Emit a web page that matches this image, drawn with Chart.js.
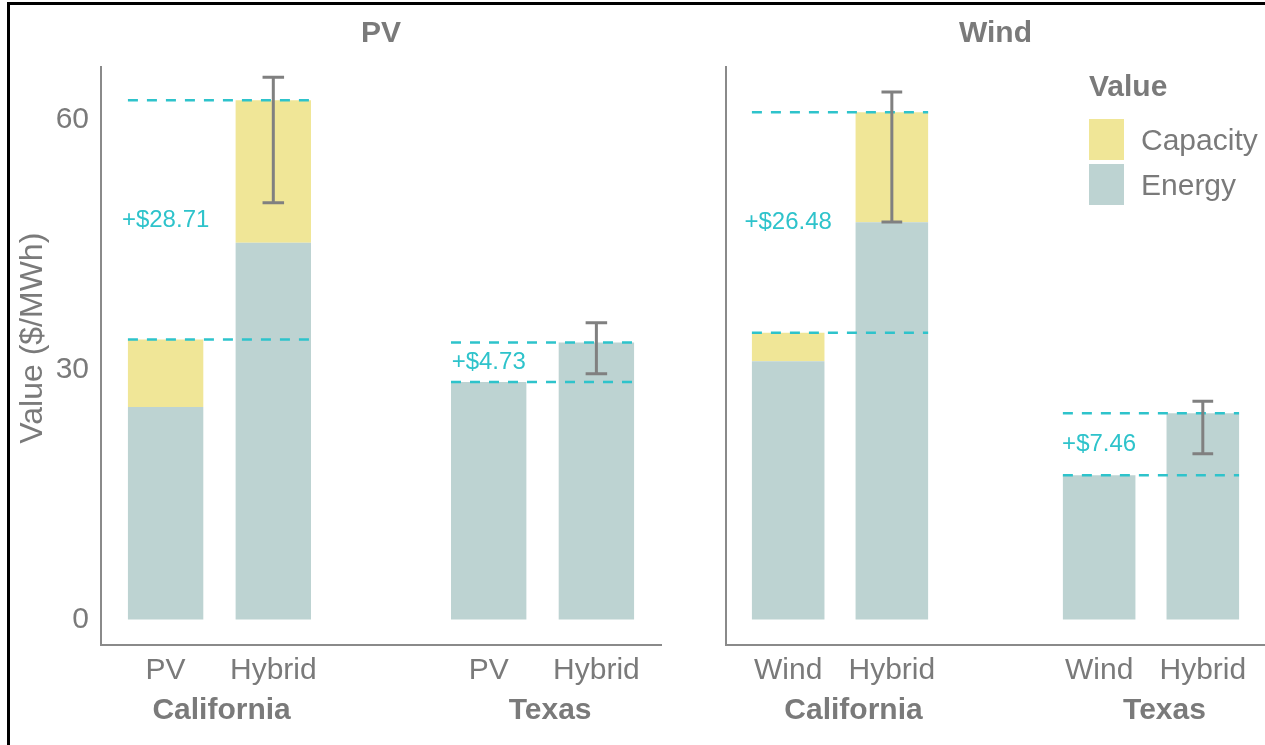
<!DOCTYPE html>
<html>
<head>
<meta charset="utf-8">
<script src="https://cdn.jsdelivr.net/npm/chart.js@4.4.1/dist/chart.umd.min.js"></script>
<style>
  html, body { margin: 0; padding: 0; background: #fff; width: 1265px; height: 745px; overflow: hidden;
    font-family: "Liberation Sans", Arial, Helvetica, sans-serif; }
  #frame { position: absolute; left: 7px; top: 2px; width: 1400px; height: 900px;
    border-left: 3px solid #000; border-top: 3px solid #000; pointer-events: none; }
  #c1 { position: absolute; left: 0; top: 0; }
  #c2 { position: absolute; left: 700px; top: 0; }
  #legend { position: absolute; left: 1089px; top: 68px; color: #7a7a7a; }
  #legend .ttl { font-weight: bold; font-size: 30px; line-height: 36px; height: 36px; }
  #legend .items { margin-top: 15px; }
  #legend .item { display: flex; align-items: center; height: 41px; margin-bottom: 4px; }
  #legend .box { width: 35px; height: 41px; }
  #legend .lbl { font-size: 30px; margin-left: 17px; line-height: 36px; }
</style>
</head>
<body>
<canvas id="c1" width="700" height="745"></canvas>
<canvas id="c2" width="565" height="745"></canvas>
<div id="legend"></div>
<div id="frame"></div>
<script>
// ---------------- data ----------------
const regions = ['California', 'Texas'];
const slots = [1, 2, 4, 5];              // x slot of each bar (slot 3 is the gap between regions)
const pvCategories = ['PV', 'Hybrid', 'PV', 'Hybrid'];
const windCategories = ['Wind', 'Hybrid', 'Wind', 'Hybrid'];

const pvEnergy = [25.5, 45.2, 28.5, 33.23];
const pvCapacity = [8.1, 17.11, 0, 0];
const pvErrLow = [null, 50.0, null, 29.5];
const pvErrHigh = [null, 65.06, null, 35.6];
const pvPremium = [28.71, 4.73];

const windEnergy = [31.0, 47.66, 17.3, 24.76];
const windCapacity = [3.4, 13.22, 0, 0];
const windErrLow = [null, 47.7, null, 19.9];
const windErrHigh = [null, 63.3, null, 26.2];
const windPremium = [26.48, 7.46];

const yTicks = [0, 30, 60];
const seriesNames = ['Energy', 'Capacity'];
const panelTitles = ['PV', 'Wind'];

// ---------------- styles / layout ----------------
const ENERGY = '#bdd3d2';
const CAPACITY = '#f0e697';
const CYAN = '#2ec3cb';
const TEXT = '#7a7a7a';
const AXIS = '#8a8a8a';
const ERR = '#808080';

Chart.defaults.font.family = '"Liberation Sans", Arial, Helvetica, sans-serif';
Chart.defaults.color = TEXT;

const decoPlugin = {
  id: 'deco',
  afterDatasetsDraw(chart, args, o) {
    const { ctx, chartArea, scales: { x, y } } = chart;
    ctx.save();
    // error bars
    ctx.strokeStyle = ERR;
    ctx.lineWidth = 3;
    o.errLow.forEach((lo, i) => {
      const hi = o.errHigh[i];
      if (lo == null || hi == null) return;
      const cx = x.getPixelForValue(slots[i]);
      const l = x.getPixelForValue(slots[i] - 0.1);
      const r = x.getPixelForValue(slots[i] + 0.1);
      const yl = y.getPixelForValue(lo), yh = y.getPixelForValue(hi);
      ctx.beginPath();
      ctx.moveTo(cx, yl); ctx.lineTo(cx, yh);
      ctx.moveTo(l, yl); ctx.lineTo(r, yl);
      ctx.moveTo(l, yh); ctx.lineTo(r, yh);
      ctx.stroke();
    });
    // premium labels
    ctx.fillStyle = CYAN;
    ctx.font = '24px "Liberation Sans", Arial, sans-serif';
    ctx.textAlign = 'center';
    ctx.textBaseline = 'middle';
    o.premium.forEach((p, g) => {
      const a = 2 * g, b = 2 * g + 1;
      const t1 = o.energy[a] + o.capacity[a];
      const t2 = o.energy[b] + o.capacity[b];
      ctx.fillText('+$' + p.toFixed(2), x.getPixelForValue(slots[a]), y.getPixelForValue((t1 + t2) / 2));
    });
    // panel title
    ctx.fillStyle = TEXT;
    ctx.font = 'bold 30px "Liberation Sans", Arial, sans-serif';
    ctx.fillText(o.title, (chartArea.left + chartArea.right) / 2, 34);
    ctx.restore();
  }
};

function buildChart(id, p) {
  const datasets = [
    { label: seriesNames[0], data: p.energy.map((v, i) => ({ x: slots[i], y: v })),
      backgroundColor: ENERGY, borderWidth: 0, order: 1, stack: 'bars' },
    { label: seriesNames[1], data: p.capacity.map((v, i) => ({ x: slots[i], y: v })),
      backgroundColor: CAPACITY, borderWidth: 0, order: 1, stack: 'bars' }
  ];
  for (let g = 0; g < 2; g++) {
    const a = 2 * g, b = 2 * g + 1;
    for (const k of [a, b]) {
      const tot = p.energy[k] + p.capacity[k];
      datasets.push({
        type: 'line', label: 'ref' + k, stack: 'ref' + k, order: 0,
        data: [{ x: slots[a] - 0.35, y: tot }, { x: slots[b] + 0.35, y: tot }],
        borderColor: CYAN, borderWidth: 2.5, borderDash: [10, 9], pointRadius: 0, fill: false
      });
    }
  }
  return new Chart(document.getElementById(id), {
    type: 'bar',
    data: { datasets },
    options: {
      responsive: false, animation: false, devicePixelRatio: 1,
      datasets: { bar: { categoryPercentage: 1, barPercentage: 0.7 } },
      layout: { padding: { top: 67, left: 0, right: p.padRight, bottom: 0 } },
      plugins: {
        legend: { display: false }, tooltip: { enabled: false },
        deco: { errLow: p.errLow, errHigh: p.errHigh, premium: p.premium,
                energy: p.energy, capacity: p.capacity, title: p.title }
      },
      scales: {
        x: {
          type: 'linear', position: 'bottom', min: 0.4, max: 5.6, offset: false,
          grid: { display: false, drawTicks: false, offset: false },
          border: { display: true, color: AXIS, width: 2 },
          afterBuildTicks: s => { s.ticks = slots.map(v => ({ value: v })); },
          ticks: { autoSkip: false, maxRotation: 0, padding: 8, color: TEXT, font: { size: 30 },
                   callback: v => p.cats[slots.indexOf(v)] },
          afterFit: s => { s.height = 44; }
        },
        x2: {
          type: 'linear', position: 'bottom', min: 0.4, max: 5.6, offset: false,
          grid: { display: false, drawTicks: false, offset: false },
          border: { display: false },
          afterBuildTicks: s => { s.ticks = p.groupAt.map(v => ({ value: v })); },
          ticks: { autoSkip: false, maxRotation: 0, padding: 4, color: TEXT,
                   font: { size: 30, weight: 'bold' },
                   callback: v => regions[v < 3 ? 0 : 1] },
          afterFit: s => { s.height = 56; }
        },
        y: {
          type: 'linear', min: -3.06, max: 66.3, stacked: true,
          grid: { display: false, drawTicks: false },
          border: { display: true, color: AXIS, width: 2 },
          afterBuildTicks: s => { s.ticks = yTicks.map(v => ({ value: v })); },
          ticks: { display: p.showY, padding: 12, color: TEXT, font: { size: 30 } },
          title: { display: p.showY, text: '    Value ($/MWh)', color: TEXT, font: { size: 32 },
                   padding: { top: 14, bottom: 0 } },
          afterFit: s => { s.width = p.yWidth; }
        }
      }
    },
    plugins: [decoPlugin]
  });
}

const pvChart = buildChart('c1', {
  title: panelTitles[0], cats: pvCategories, energy: pvEnergy, capacity: pvCapacity,
  errLow: pvErrLow, errHigh: pvErrHigh, premium: pvPremium, showY: true, yWidth: 101, padRight: 39,
  groupAt: [1.52, 4.57]
});
const windChart = buildChart('c2', {
  title: panelTitles[1], cats: windCategories, energy: windEnergy, capacity: windCapacity,
  errLow: windErrLow, errHigh: windErrHigh, premium: windPremium, showY: false, yWidth: 26, padRight: 0,
  groupAt: [1.63, 4.63]
});

// legend (Capacity on top, Energy below, as in the reference)
(function () {
  const el = document.getElementById('legend');
  const t = document.createElement('div'); t.className = 'ttl'; t.textContent = 'Value'; el.appendChild(t);
  const items = document.createElement('div'); items.className = 'items'; el.appendChild(items);
  windChart.data.datasets.filter(d => d.type !== 'line').slice().reverse().forEach(d => {
    const it = document.createElement('div'); it.className = 'item';
    const b = document.createElement('div'); b.className = 'box'; b.style.background = d.backgroundColor;
    const l = document.createElement('div'); l.className = 'lbl'; l.textContent = d.label;
    it.appendChild(b); it.appendChild(l); items.appendChild(it);
  });
})();
</script>
</body>
</html>
